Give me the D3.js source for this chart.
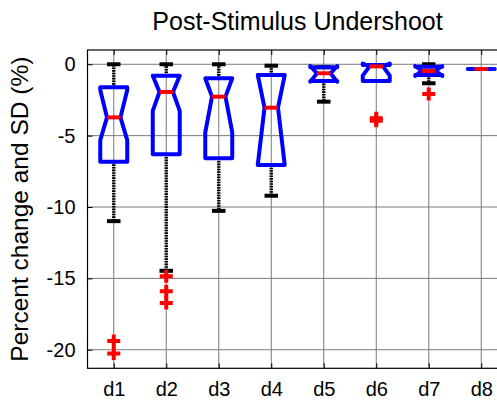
<!DOCTYPE html>
<html><head><meta charset="utf-8">
<script src="https://cdn.jsdelivr.net/npm/d3@7"></script>
<style>
html,body{margin:0;padding:0;background:#fff;overflow:hidden;}
text{font-family:"Liberation Sans",Arial,sans-serif;fill:#000;}
</style></head>
<body>
<script>
const categories = ["d1","d2","d3","d4","d5","d6","d7","d8"];
const whiskerHi = [0, 0, 0, -0.1, -0.21, -0.05, 0, -0.33];
const q3        = [-1.61, -0.8, -0.98, -0.75, -0.21, -0.05, -0.17, -0.33];
const medians   = [-3.72, -1.94, -2.27, -3.04, -0.63, -0.15, -0.47, -0.33];
const q1        = [-6.83, -6.31, -6.59, -7.06, -1.17, -1.17, -0.75, -0.33];
const whiskerLo = [-10.99, -14.47, -10.27, -9.21, -2.62, -1.17, -1.33, -0.33];
const notchHi   = [-1.8, -0.8, -0.98, -0.75, -0.12, 0.05, -0.12, -0.33];
const notchLo   = [-5.31, -3.27, -4.77, -7.06, -1.22, -0.8, -0.82, -0.33];
const outliers  = [[-19.38, -20.27], [-14.85, -15.9, -16.72], [], [], [], [-3.78, -3.95], [-2.08], []];
const yTicks = [0, -5, -10, -15, -20];
const titleText = "Post-Stimulus Undershoot";
const yLabel = "Percent change and SD (%)";

(function () {
const W = 497, H = 401;
const svg = d3.select("body").append("svg").attr("width", W).attr("height", H);

const x = d3.scaleLinear().domain([0.5, 8.5]).range([87.5, 507.5]);
const y = d3.scaleLinear().domain([-21.3, 1]).range([368.3, 50]);
const pTop = y.range()[1], pBottom = y.range()[0], pLeft = x.range()[0], pRight = x.range()[1];

// grid
const g = svg.append("g");
g.selectAll("line.hg").data(yTicks).join("line")
  .attr("x1", pLeft).attr("x2", pRight).attr("y1", d => y(d)).attr("y2", d => y(d))
  .attr("stroke", "#7a7a7a").attr("stroke-width", 1);
g.selectAll("line.vg").data(categories).join("line")
  .attr("x1", (d,i) => x(i+1)).attr("x2", (d,i) => x(i+1)).attr("y1", pTop).attr("y2", pBottom)
  .attr("stroke", "#7a7a7a").attr("stroke-width", 1);

// axes
const yAxis = d3.axisLeft(y).tickValues(yTicks).tickFormat(d => String(d)).tickSize(-5).tickPadding(12);
const ya = svg.append("g").attr("transform", `translate(${pLeft},0)`).call(yAxis);
ya.select(".domain").remove();
ya.selectAll("text").attr("font-size", 20).attr("font-family", "Liberation Sans, Arial, sans-serif");

const xAxis = d3.axisBottom(x).tickValues(d3.range(1, 9)).tickFormat(d => categories[d-1]).tickSize(-5).tickPadding(14);
const xa = svg.append("g").attr("transform", `translate(0,${pBottom})`).call(xAxis);
xa.select(".domain").remove();
xa.selectAll("text").attr("font-size", 20).attr("font-family", "Liberation Sans, Arial, sans-serif");

const xTopAxis = d3.axisTop(x).tickValues(d3.range(1, 9)).tickFormat("").tickSize(-5);
const xt = svg.append("g").attr("transform", `translate(0,${pTop})`).call(xTopAxis);
xt.select(".domain").remove();

// frame
svg.append("rect").attr("x", pLeft).attr("y", pTop).attr("width", pRight-pLeft).attr("height", pBottom-pTop)
  .attr("fill", "none").attr("stroke", "#000").attr("stroke-width", 1.2);

// boxes
const bw = (x(1.257) - x(1));   // half box width in px
const nw = bw / 2;
const data = categories.map((c, i) => ({i, c}));
const bg = svg.append("g");

// whiskers
data.forEach(d => {
  const cx = x(d.i + 1), i = d.i;
  bg.append("line").attr("x1", cx).attr("x2", cx).attr("y1", y(q3[i])).attr("y2", y(whiskerHi[i]))
    .attr("stroke", "#000").attr("stroke-width", 3.5).attr("stroke-dasharray", "1.6,1");
  bg.append("line").attr("x1", cx).attr("x2", cx).attr("y1", y(q1[i])).attr("y2", y(whiskerLo[i]))
    .attr("stroke", "#000").attr("stroke-width", 3.5).attr("stroke-dasharray", "1.6,1");
  [whiskerHi[i], whiskerLo[i]].forEach(v => {
    bg.append("line").attr("x1", cx - nw).attr("x2", cx + nw).attr("y1", y(v)).attr("y2", y(v))
      .attr("stroke", "#000").attr("stroke-width", 4);
  });
});

// box outlines (notched)
data.forEach(d => {
  const cx = x(d.i + 1), i = d.i;
  const L = cx - bw, R = cx + bw, IL = cx - nw, IR = cx + nw;
  const pts = [[L, y(q1[i])], [L, y(notchLo[i])], [IL, y(medians[i])], [L, y(notchHi[i])], [L, y(q3[i])],
               [R, y(q3[i])], [R, y(notchHi[i])], [IR, y(medians[i])], [R, y(notchLo[i])], [R, y(q1[i])]];
  bg.append("path").attr("d", d3.line()(pts) + "Z")
    .attr("fill", "none").attr("stroke", "#0000ff").attr("stroke-width", 4).attr("stroke-linejoin", "round");
});

// medians
data.forEach(d => {
  const cx = x(d.i + 1), i = d.i;
  bg.append("line").attr("x1", cx - nw).attr("x2", cx + nw).attr("y1", y(medians[i])).attr("y2", y(medians[i]))
    .attr("stroke", "#ff0000").attr("stroke-width", 4);
});

// outliers
data.forEach(d => {
  const cx = x(d.i + 1);
  outliers[d.i].forEach(v => {
    const py = y(v), s = 6.5;
    bg.append("path").attr("d", `M${cx - s},${py}H${cx + s}M${cx},${py - s}V${py + s}`)
      .attr("stroke", "#ff0000").attr("stroke-width", 4).attr("fill", "none");
  });
});

// title & label
svg.append("text").attr("x", (pLeft + pRight) / 2).attr("y", 30).attr("text-anchor", "middle")
  .attr("font-size", 25).text(titleText);
svg.append("text").attr("transform", `translate(28,${(pTop + pBottom) / 2}) rotate(-90)`)
  .attr("text-anchor", "middle").attr("font-size", 24.5).text(yLabel);
})();
</script>
</body></html>
